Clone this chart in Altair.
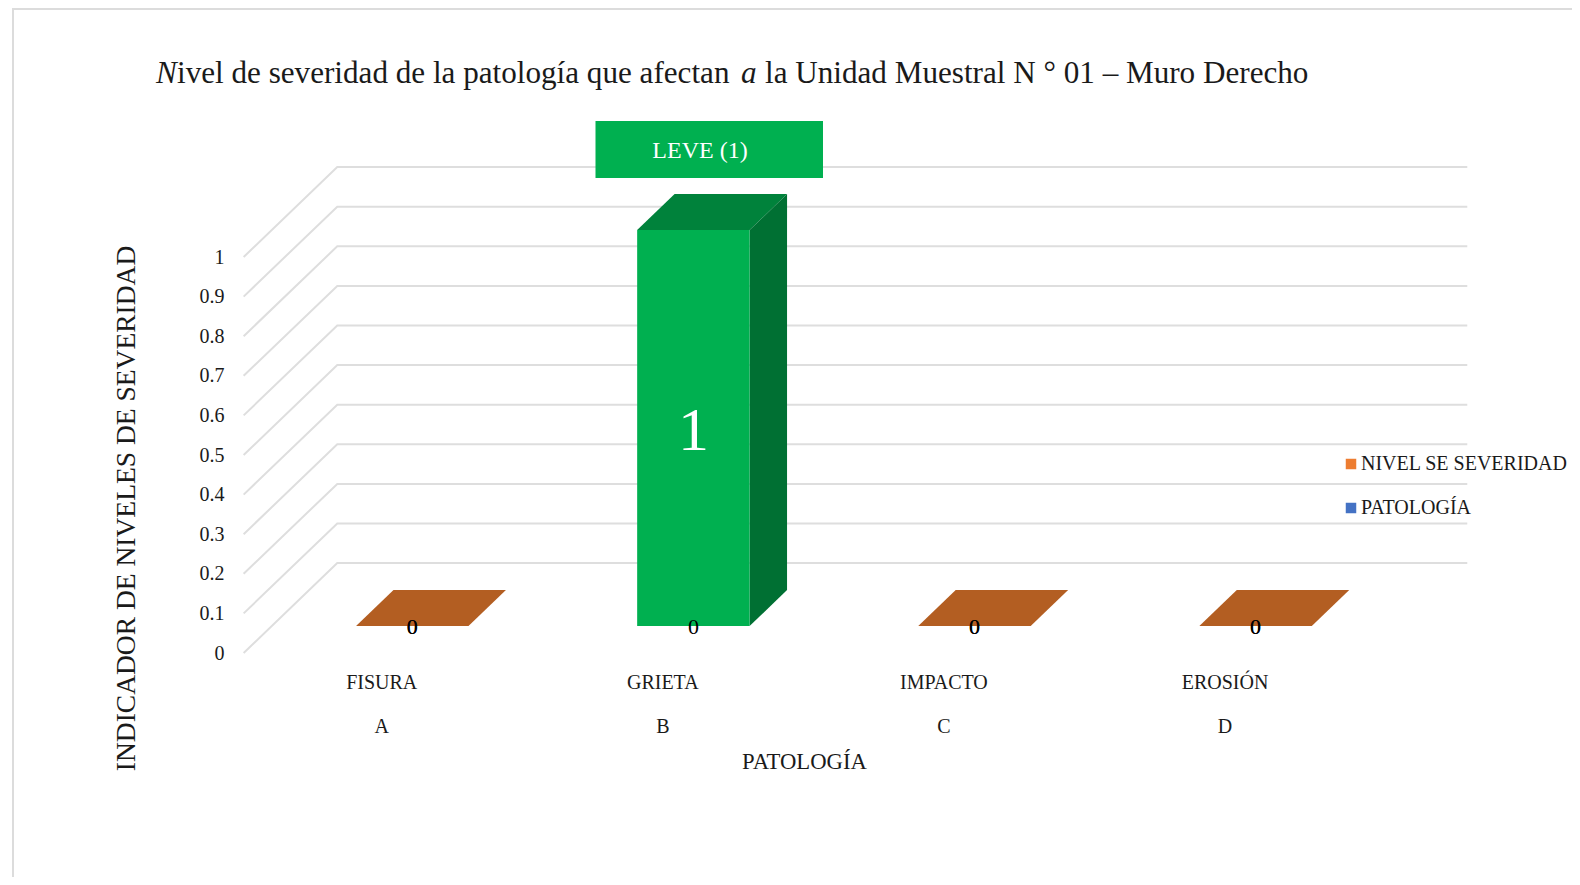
import altair as alt
import pandas as pd

# ---- values ----
categories = ["FISURA", "GRIETA", "IMPACTO", "EROSIÓN"]
letters = ["A", "B", "C", "D"]
severity = [0, 1, 0, 0]
pathology = [0, 0, 0, 0]
series_names = ["NIVEL SE SEVERIDAD", "PATOLOGÍA"]
y_ticks = [0, 0.1, 0.2, 0.3, 0.4, 0.5, 0.6, 0.7, 0.8, 0.9, 1]
title_parts = ["N", "ivel de severidad de la patología que afectan", "a",
               "la Unidad Muestral N ° 01 – Muro Derecho"]
callout = "LEVE (1)"
y_title = "INDICADOR  DE NIVELES DE SEVERIDAD"
x_title = "PATOLOGÍA"

# ---- layout ----
W, H = 1564, 869
X0, XU = 376.2, 281.1      # pixel of category 0, pixels per category
Y0, YU = 645.0, 396.0      # pixel of value 0, pixels per unit
KX, KY = 0.333, 0.227      # oblique depth projection
BAR_W = 0.4
Z1, Z2 = 0.3, 0.7
FLOOR_L, FLOOR_R = -0.5, 3.52
FONT = "Liberation Serif"
C_FRONT, C_TOP, C_SIDE = "#00b050", "#00823b", "#007033"
C_SLAB = "#b35e22"
C_GRID = "#dedede"
C_TEXT = "#1a1a1a"

xs = alt.Scale(domain=[-X0 / XU, (W - X0) / XU], nice=False, zero=False)
ys = alt.Scale(domain=[(Y0 - H) / YU, Y0 / YU], nice=False, zero=False)


def px(v, z=0.0):
    return v + z * KX


def py(v, z=0.0):
    return v + z * KY


X = lambda f="x": alt.X(f"{f}:Q", scale=xs)
Y = lambda f="y": alt.Y(f"{f}:Q", scale=ys)

# gridlines in the oblique walls
grid_rows = []
for t in y_ticks:
    grid_rows += [
        {"t": t, "o": 0, "x": px(FLOOR_L, 0), "y": py(t, 0)},
        {"t": t, "o": 1, "x": px(FLOOR_L, 1), "y": py(t, 1)},
        {"t": t, "o": 2, "x": px(FLOOR_R, 1), "y": py(t, 1)},
    ]

name_expr = "[" + ",".join(
    f"['{c}','{l}']" for c, l in zip(categories, letters)
) + "][datum.value]"

grid = alt.Chart(pd.DataFrame(grid_rows)).mark_line(
    color=C_GRID, strokeWidth=2
).encode(
    x=alt.X("x:Q", scale=xs, axis=alt.Axis(
        values=[0, 1, 2, 3], labelExpr=name_expr, domain=False, ticks=False,
        grid=False, offset=-205, labelPadding=0, labelFont=FONT, labelFontSize=20,
        labelColor=C_TEXT, labelLineHeight=44.5, labelBaseline="top", labelFlush=False,
        labelOffset=-3, labelOverlap=False, labelBound=False, title=x_title, titleFont=FONT,
        titleFontSize=22.7, titleFontWeight="normal", titleColor=C_TEXT,
        titleX=796, titleY=89, titleBaseline="middle")),
    y=alt.Y("y:Q", scale=ys, axis=alt.Axis(
        values=y_ticks, format=".1~f", domain=False, ticks=False, grid=False,
        offset=-216, labelPadding=0, labelFont=FONT, labelFontSize=20,
        labelColor=C_TEXT, labelFlush=False, labelOverlap=False, labelBound=False,
        title=y_title, titleFont=FONT, titleFontSize=27.5, titleFontWeight="normal",
        titleColor=C_TEXT, titleX=-98, titleY=500, titleBaseline="middle",
        titleAnchor="middle")),
    detail="t:N",
    order="o:Q",
)

# data tables for the 3D faces
front_rows, top_rows, side_rows, zero_rows = [], [], [], []
for i, v in enumerate(severity):
    left, right = i - BAR_W / 2, i + BAR_W / 2
    for name, val in ((series_names[0], v), (series_names[1], pathology[i])):
        zero_rows.append({
            "series": name, "x": px(left, Z1), "x2": px(right, Z1),
            "y": py(0, Z1), "y2": py(0, Z1),
        })
    front_rows.append({"i": i, "v": v, "x": px(left, Z1), "x2": px(right, Z1),
                       "y": py(0, Z1), "y2": py(v, Z1)})
    for z in (Z1, Z2):
        top_rows.append({"i": i, "v": v, "y": py(v, z), "x": px(left, z), "x2": px(right, z)})
    if v > 0:
        for z in (Z1, Z2):
            side_rows.append({"i": i, "x": px(right, z), "y": py(0, z), "y2": py(v, z)})

fronts = pd.DataFrame(front_rows)
tops = pd.DataFrame(top_rows)

legend_layer = alt.Chart(pd.DataFrame(zero_rows)).mark_rect(strokeWidth=0).encode(
    x=X(), x2="x2:Q", y=Y(), y2="y2:Q",
    color=alt.Color("series:N",
                    scale=alt.Scale(domain=series_names, range=["#ed7d31", "#4472c4"]),
                    legend=alt.Legend(
                        orient="none", legendX=1333, legendY=446, title=None,
                        labelFont=FONT, labelFontSize=20, labelColor=C_TEXT,
                        symbolType="square", symbolSize=110, symbolStrokeWidth=0,
                        symbolOpacity=1, rowPadding=24, labelOffset=0, labelLimit=400)),
)

slabs = alt.Chart(tops[tops.v == 0]).mark_area(orient="horizontal", color=C_SLAB).encode(
    y=Y(), x=X(), x2="x2:Q", detail="i:N"
)
bar_top = alt.Chart(tops[tops.v > 0]).mark_area(orient="horizontal", color=C_TOP).encode(
    y=Y(), x=X(), x2="x2:Q", detail="i:N"
)
bar_side = alt.Chart(pd.DataFrame(side_rows)).mark_area(color=C_SIDE).encode(
    x=X(), y=Y(), y2="y2:Q", detail="i:N"
)
bar_front = alt.Chart(fronts[fronts.v > 0]).mark_rect(color=C_FRONT).encode(
    x=X(), x2="x2:Q", y=Y(), y2="y2:Q"
)

# data labels
label_rows = []
for i, (a, b) in enumerate(zip(severity, pathology)):
    label_rows.append({"x": px(i, Z1), "y": py(0, Z1), "t": str(b)})
    if a == 0:
        label_rows.append({"x": px(i, Z1), "y": py(0, Z1), "t": str(a)})
zero_labels = alt.Chart(pd.DataFrame(label_rows)).mark_text(
    font=FONT, fontSize=22, color="#000000", baseline="middle", dy=1
).encode(x=X(), y=Y(), text="t:N")

big_rows = [{"x": px(i, Z1), "y": py(v / 2, Z1), "t": str(v)} for i, v in enumerate(severity) if v > 0]
big_label = alt.Chart(pd.DataFrame(big_rows)).mark_text(
    font=FONT, fontSize=62, color="#ffffff", baseline="middle", dy=3
).encode(x=X(), y=Y(), text="t:N")

one = pd.DataFrame({"a": [0]})

box = alt.Chart(one).mark_rect(color=C_FRONT).encode(
    x=alt.value(587.5), x2=alt.value(815), y=alt.value(113), y2=alt.value(170)
)
box_text = alt.Chart(pd.DataFrame({"t": [callout]})).mark_text(
    font=FONT, fontSize=24, color="#ffffff", baseline="middle", align="center"
).encode(x=alt.value(692), y=alt.value(143), text="t:N")

# title pieces (mixed italics)
title_pos = [148, 169, 733, 757]
title_styles = ["italic", "normal", "italic", "normal"]
title_layers = []
for part, xp, st in zip(title_parts, title_pos, title_styles):
    title_layers.append(
        alt.Chart(pd.DataFrame({"t": [part]})).mark_text(
            font=FONT, fontSize=31.15, fontStyle=st, color=C_TEXT, align="left",
            baseline="alphabetic"
        ).encode(x=alt.value(xp), y=alt.value(75), text="t:N")
    )

frame_top = alt.Chart(one).mark_rule(color="#dcdcdc", strokeWidth=2).encode(
    x=alt.value(4), x2=alt.value(W), y=alt.value(1)
)
frame_left = alt.Chart(one).mark_rule(color="#dcdcdc", strokeWidth=2).encode(
    x=alt.value(5), y=alt.value(0), y2=alt.value(H)
)

chart = alt.layer(
    grid, frame_top, frame_left, box, box_text, slabs, legend_layer,
    bar_top, bar_side, bar_front, zero_labels, big_label, *title_layers
).properties(
    width=W, height=H, padding=0,
    autosize=alt.AutoSizeParams(type="none"),
    background="#ffffff",
).configure_view(stroke=None)

chart.save("out.html", embed_options={"renderer": "svg", "actions": False})
